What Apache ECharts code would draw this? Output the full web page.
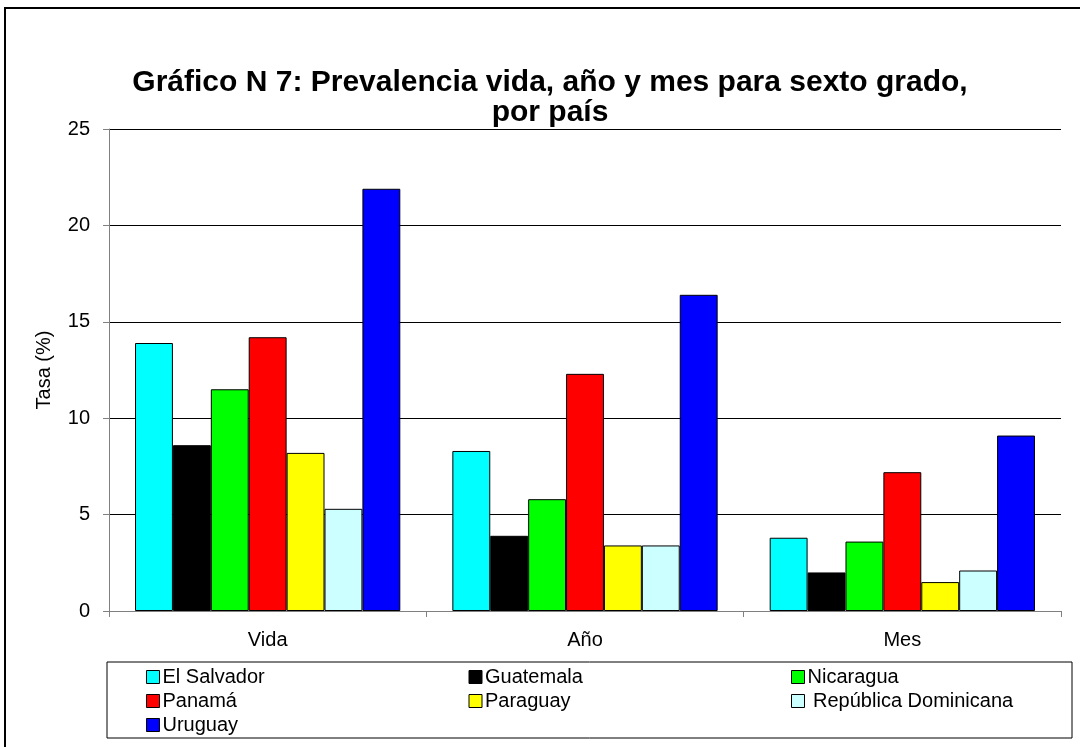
<!DOCTYPE html>
<html>
<head>
<meta charset="utf-8">
<script src="https://cdn.jsdelivr.net/npm/echarts@6/dist/echarts.min.js"></script>
<style>
html,body{margin:0;padding:0;background:#fff;}
#main{width:1080px;height:747px;}
</style>
</head>
<body>
<div id="main"></div>
<script>
var categorias = ['Vida', 'Año', 'Mes'];
var paises = ['El Salvador', 'Guatemala', 'Nicaragua', 'Panamá', 'Paraguay', 'República Dominicana', 'Uruguay'];
var colores = ['#00ffff', '#000000', '#00ff00', '#ff0000', '#ffff00', '#ccffff', '#0000ff'];
// valores por pais: [vida, año, mes]
var elSalvador = [13.9, 8.3, 3.8];
var guatemala = [8.6, 3.9, 2.0];
var nicaragua = [11.5, 5.8, 3.6];
var panama = [14.2, 12.3, 7.2];
var paraguay = [8.2, 3.4, 1.5];
var repDominicana = [5.3, 3.4, 2.1];
var uruguay = [21.9, 16.4, 9.1];
var valores = [elSalvador, guatemala, nicaragua, panama, paraguay, repDominicana, uruguay];
var ticksY = [0, 5, 10, 15, 20, 25];

var dom = document.getElementById("main");
var myChart = echarts.init(dom);
var option = null;
var fuente = 'Liberation Sans, Arial, sans-serif';

var series = [];
for (var i = 0; i < paises.length; i++) {
    series.push({
        name: paises[i],
        type: 'bar',
        barGap: '0%',
        barCategoryGap: '16.4%',
        itemStyle: {color: colores[i], borderColor: '#000', borderWidth: 1},
        data: valores[i]
    });
}

option = {
    backgroundColor: '#fff',
    animation: false,
    title: {
        text: 'Gráfico N 7: Prevalencia vida, año y mes para sexto grado,\npor país',
        left: 545,
        textAlign: 'center',
        top: 63,
        textStyle: {fontFamily: fuente, fontWeight: 'bold', fontSize: 30, lineHeight: 30, color: '#000'}
    },
    graphic: [
        {type: 'rect', shape: {x: 5, y: 8, width: 1100, height: 800}, style: {fill: 'none', stroke: '#000', lineWidth: 2}, silent: true},
        {type: 'rect', shape: {x: 107, y: 662, width: 965, height: 76}, style: {fill: 'none', stroke: '#000', lineWidth: 1}, silent: true}
    ],
    legend: {
        left: 141,
        top: 665,
        padding: [0, 5],
        width: 1000,
        itemWidth: 13,
        itemHeight: 13,
        itemGap: 0,
        icon: 'rect',
        data: paises,
        formatter: function (name) {
            return name === 'República Dominicana' ? ' ' + name : name;
        },
        itemStyle: {borderColor: '#000', borderWidth: 1},
        textStyle: {fontFamily: fuente, fontSize: 20, color: '#000', width: 306, padding: [0, 0, 0, -2], lineHeight: 24}
    },
    grid: {left: 109, right: 19, top: 129, bottom: 136},
    xAxis: {
        type: 'category',
        data: categorias,
        axisLine: {lineStyle: {color: '#808080', width: 1}},
        axisTick: {show: true, length: 6, lineStyle: {color: '#808080'}},
        axisLabel: {fontFamily: fuente, fontSize: 20, color: '#000', margin: 19}
    },
    yAxis: {
        type: 'value',
        name: 'Tasa (%)',
        nameLocation: 'middle',
        nameGap: 55,
        nameTextStyle: {fontFamily: fuente, fontSize: 20, color: '#000'},
        min: ticksY[0],
        max: ticksY[ticksY.length - 1],
        interval: 5,
        axisLine: {show: true, lineStyle: {color: '#808080'}},
        axisTick: {show: true, length: 6, lineStyle: {color: '#808080'}},
        axisLabel: {fontFamily: fuente, fontSize: 20, color: '#000', margin: 19},
        splitLine: {lineStyle: {color: '#000', width: 1}}
    },
    series: series
};

if (option && typeof option === "object") {
    myChart.setOption(option, true);
}
</script>
</body>
</html>
